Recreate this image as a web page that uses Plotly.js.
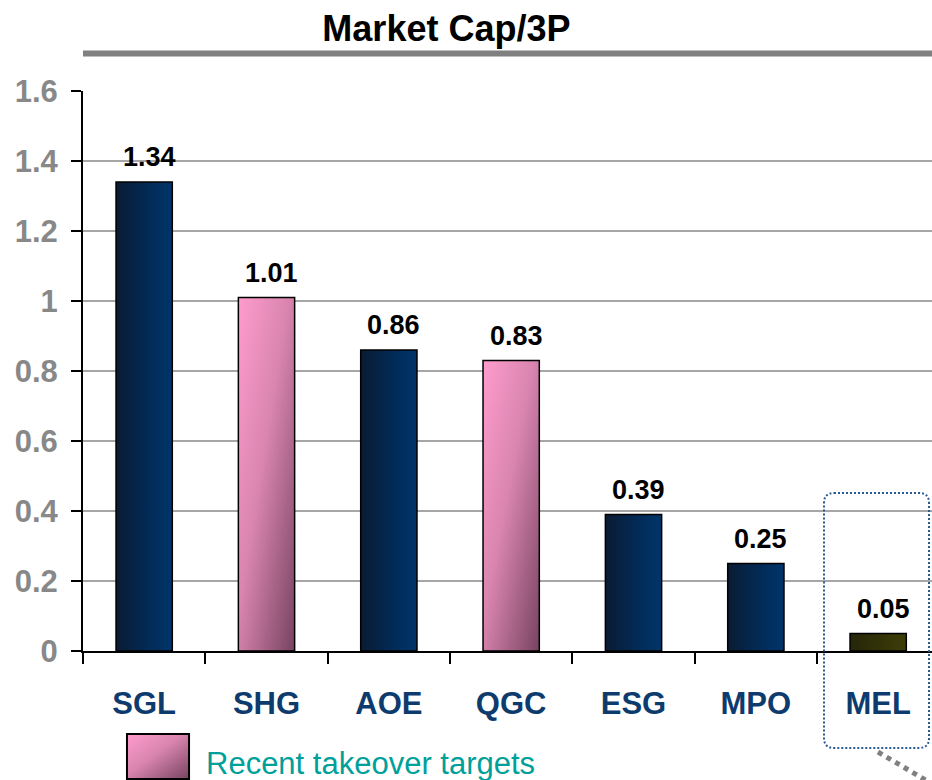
<!DOCTYPE html>
<html>
<head>
<meta charset="utf-8">
<script src="https://cdn.plot.ly/plotly-3.0.1.min.js"></script>
<style>
  html, body { margin: 0; padding: 0; background: #ffffff; }
  #chart { width: 932px; height: 780px; }
</style>
</head>
<body>
<div id="chart"></div>
<script>
// ---- data ----
var categories = ['SGL', 'SHG', 'AOE', 'QGC', 'ESG', 'MPO', 'MEL'];
var values = [1.34, 1.01, 0.86, 0.83, 0.39, 0.25, 0.05];
var groups = ['peer', 'target', 'peer', 'target', 'peer', 'peer', 'subject'];
var valueLabels = ['1.34', '1.01', '0.86', '0.83', '0.39', '0.25', '0.05'];
var yTickVals = [0, 0.2, 0.4, 0.6, 0.8, 1, 1.2, 1.4, 1.6];
var yTickText = ['0', '0.2', '0.4', '0.6', '0.8', '1', '1.2', '1.4', '1.6'];
var chartTitle = 'Market Cap/3P';
var legendText = 'Recent takeover targets';

// ---- styles ----
var groupColor = { peer: '#002f5e', target: '#c27596', subject: '#333305' };
var groupGradient = { peer: 'gPeer', target: 'gTarget', subject: 'gSubject' };
var FONT = '"Liberation Sans", Arial, sans-serif';

var trace = {
  type: 'bar',
  x: categories,
  y: values,
  width: 0.46,
  marker: {
    color: groups.map(function (g) { return groupColor[g]; }),
    line: { color: '#000000', width: 1.5 }
  },
  hoverinfo: 'x+y'
};

var annotations = categories.map(function (c, i) {
  return {
    x: c, y: values[i], xref: 'x', yref: 'y',
    text: valueLabels[i], showarrow: false,
    yanchor: 'bottom', yshift: 8, xshift: 5,
    font: { family: FONT, size: 27, color: '#000000', weight: 'bold' }
  };
});

annotations.push({
  xref: 'paper', yref: 'paper', x: 0.1425, y: -0.2,
  xanchor: 'left', yanchor: 'middle',
  text: legendText, showarrow: false,
  font: { family: FONT, size: 31, color: '#00a09a' }
});

var rx = 10 / 849, ry = 10 / 560;
var bx0 = 0.8728, bx1 = 0.9965, by0 = -0.1732, by1 = 0.2821;
var boxPath = 'M ' + (bx0 + rx) + ',' + by1 +
  ' L ' + (bx1 - rx) + ',' + by1 +
  ' Q ' + bx1 + ',' + by1 + ' ' + bx1 + ',' + (by1 - ry) +
  ' L ' + bx1 + ',' + (by0 + ry) +
  ' Q ' + bx1 + ',' + by0 + ' ' + (bx1 - rx) + ',' + by0 +
  ' L ' + (bx0 + rx) + ',' + by0 +
  ' Q ' + bx0 + ',' + by0 + ' ' + bx0 + ',' + (by0 + ry) +
  ' L ' + bx0 + ',' + (by1 - ry) +
  ' Q ' + bx0 + ',' + by1 + ' ' + (bx0 + rx) + ',' + by1 + ' Z';

var shapes = [
  // title underline
  { type: 'line', xref: 'paper', yref: 'paper', x0: 0, x1: 1, y0: 1.067, y1: 1.067,
    line: { color: '#808080', width: 6 }, layer: 'above' },
  // dotted highlight box around MEL
  { type: 'path', xref: 'paper', yref: 'paper', path: boxPath,
    line: { color: '#2a5a96', width: 2, dash: '2px,2px' }, layer: 'above' },
  // connector
  { type: 'line', xref: 'paper', yref: 'paper', x0: 0.9364, y0: -0.1804, x1: 1.02, y1: -0.255,
    line: { color: '#808080', width: 5, dash: '5px,5px' }, layer: 'above' },
  // legend swatch
  { type: 'rect', xref: 'paper', yref: 'paper', x0: 0.0518, x1: 0.1249, y0: -0.2286, y1: -0.1482,
    fillcolor: '#c27596', line: { color: '#000000', width: 2 }, layer: 'above' }
];

var layout = {
  width: 932, height: 780,
  margin: { l: 83, r: 0, t: 91, b: 129, pad: 0 },
  paper_bgcolor: '#ffffff', plot_bgcolor: '#ffffff',
  showlegend: false,
  title: {
    text: chartTitle,
    xref: 'container', yref: 'container', x: 0.479, y: 0.964,
    xanchor: 'center', yanchor: 'middle',
    font: { family: FONT, size: 36, color: '#000000', weight: 'bold' }
  },
  xaxis: {
    type: 'category',
    range: [-0.5, 6.44],
    showline: true, linecolor: '#000000', linewidth: 2,
    ticks: 'outside', tickson: 'boundaries', ticklen: 11, tickwidth: 2, tickcolor: '#000000',
    ticklabelstandoff: 24,
    showgrid: false, zeroline: false,
    tickfont: { family: FONT, size: 31, color: '#0d3b6e', weight: 'bold' },
    fixedrange: true
  },
  yaxis: {
    range: [0, 1.6],
    tickvals: yTickVals, ticktext: yTickText,
    showline: true, linecolor: '#000000', linewidth: 2,
    ticks: 'outside', ticklen: 10, tickwidth: 2, tickcolor: '#000000',
    ticklabelstandoff: 7,
    showgrid: true, gridcolor: '#a6a6a6', gridwidth: 2,
    zeroline: false,
    tickfont: { family: FONT, size: 31, color: '#888888', weight: 'bold' },
    fixedrange: true
  },
  shapes: shapes,
  annotations: annotations,
  bargap: 0.54
};

function addGradient(defs, id, x2, y2, stops) {
  var ns = 'http://www.w3.org/2000/svg';
  var g = document.createElementNS(ns, 'linearGradient');
  g.setAttribute('id', id);
  g.setAttribute('x1', '0'); g.setAttribute('y1', '0');
  g.setAttribute('x2', x2); g.setAttribute('y2', y2);
  stops.forEach(function (s) {
    var st = document.createElementNS(ns, 'stop');
    st.setAttribute('offset', s[0]);
    st.setAttribute('stop-color', s[1]);
    g.appendChild(st);
  });
  defs.appendChild(g);
}

Plotly.newPlot('chart', [trace], layout, { displayModeBar: false, staticPlot: true }).then(function (gd) {
  var svg = gd.querySelector('.main-svg');
  var defs = svg.querySelector('defs');
  addGradient(defs, 'gPeer', '1', '0', [['0', '#0a1b33'], ['0.55', '#022a55'], ['1', '#00356b']]);
  addGradient(defs, 'gTarget', '1', '1', [['0', '#ff9ccd'], ['0.45', '#d985b0'], ['1', '#774360']]);
  addGradient(defs, 'gSubject', '1', '0', [['0', '#26260a'], ['1', '#3d3d08']]);
  var paths = gd.querySelectorAll('.barlayer .point path');
  paths.forEach(function (p, i) {
    p.style.fill = 'url(#' + groupGradient[groups[i]] + ')';
  });
  var shapePaths = gd.querySelectorAll('.shapelayer path');
  shapePaths.forEach(function (p) {
    if (p.getAttribute('data-index') === String(shapes.length - 1)) {
      p.style.fill = 'url(#gTarget)';
      p.style.fillOpacity = 1;
    }
  });
});
</script>
</body>
</html>
